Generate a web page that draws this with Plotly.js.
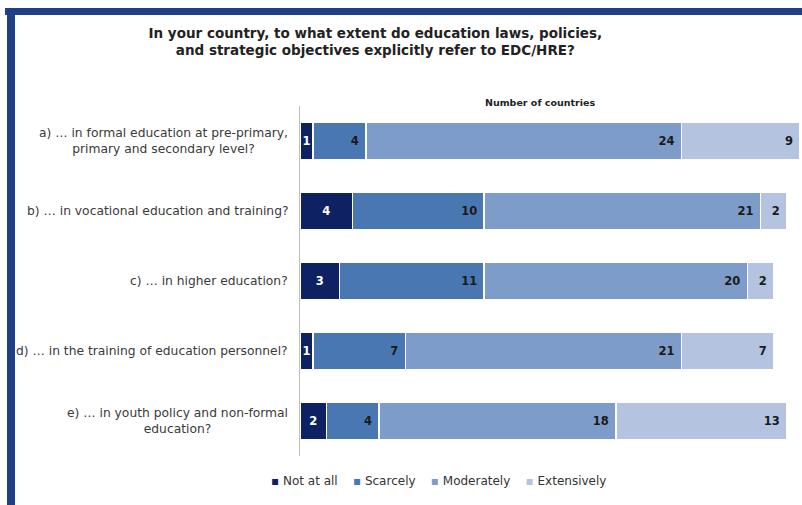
<!DOCTYPE html>
<html>
<head>
<meta charset="utf-8">
<script src="https://cdn.plot.ly/plotly-3.0.1.min.js"></script>
<style>
html,body{margin:0;padding:0;background:#fff;}
#wrap{position:relative;width:802px;height:505px;overflow:hidden;}
#chart{width:802px;height:505px;}
.bt{position:absolute;left:5px;top:8px;width:797px;height:7px;background:#1f3f86;z-index:10;}
.bl{position:absolute;left:7px;top:8px;width:8px;height:497px;background:#1f3f86;z-index:10;}
</style>
</head>
<body>
<div id="wrap"><div id="chart"></div><div class="bt"></div><div class="bl"></div></div>
<script>
const categories = [
  "a) … in formal education at pre-primary,<br>primary and secondary level?",
  "b) … in vocational education and training?",
  "c) … in higher education?",
  "d) … in the training of education personnel?",
  "e) … in youth policy and non-formal<br>education?"
];
const seriesNames = ["Not at all", "Scarcely", "Moderately", "Extensively"];
const notAtAll   = [1, 4, 3, 1, 2];
const scarcely   = [4, 10, 11, 7, 4];
const moderately = [24, 21, 20, 21, 18];
const extensively= [9, 2, 2, 7, 13];
const colors = ["#0e2263", "#4977b1", "#7e9cc9", "#b4c4e0"];
const textColors = ["#ffffff", "#1a1a1a", "#1a1a1a", "#1a1a1a"];

const FONT = "DejaVu Sans, Liberation Sans, Arial, sans-serif";
const values = [notAtAll, scarcely, moderately, extensively];
const ids = categories.map((c, i) => "cat" + i);

const traces = values.map((v, k) => ({
  type: "bar",
  orientation: "h",
  name: seriesNames[k],
  y: ids,
  x: v,
  text: v.map(n => (k === 0 ? String(n) : n + "\u00a0")),
  textposition: "inside",
  insidetextanchor: k === 0 ? "middle" : "end",
  constraintext: "none",
  textfont: {family: FONT, size: 11.5, color: textColors[k], weight: "bold"},
  marker: {color: colors[k], line: {color: "#ffffff", width: 1.5}},
  hoverinfo: "x+name",
  showlegend: false
}));

const annotations = categories.map((c, i) => ({
  xref: "paper", yref: "y", x: 0, y: ids[i],
  xanchor: "right", yanchor: "middle", xshift: -10,
  text: c, align: "center", showarrow: false,
  font: {family: FONT, size: 12.3, color: "#3a3a3a"}
}));
annotations.push({
  xref: "paper", yref: "paper", x: 0.48, y: 1.011, xanchor: "center", yanchor: "middle",
  text: "<b>Number of countries</b>", showarrow: false,
  font: {family: FONT, size: 9.5, color: "#222222"}
});
// legend built from series names and colours
const legendText = seriesNames.map((n, k) =>
  "<span style='color:" + colors[k] + "'>\u25AA</span> " + n).join("\u00a0\u00a0\u00a0\u00a0");
annotations.push({
  xref: "paper", yref: "paper", x: 0.277, y: -0.072, xanchor: "center", yanchor: "middle",
  text: legendText, showarrow: false,
  font: {family: FONT, size: 12, color: "#333333"}
});

const layout = {
  width: 802, height: 505,
  margin: {l: 300, r: 2, t: 106, b: 49},
  paper_bgcolor: "#ffffff", plot_bgcolor: "#ffffff",
  barmode: "stack",
  bargap: 0.46,
  title: {
    text: "<b>In your country, to what extent do education laws, policies,<br>and strategic objectives explicitly refer to EDC/HRE?</b>",
    x: 0.468, xanchor: "center", y: 0.925, yanchor: "middle",
    font: {family: FONT, size: 13.5, color: "#222222"}
  },
  xaxis: {range: [0, 38], visible: false, fixedrange: true},
  yaxis: {
    autorange: "reversed", showticklabels: false, ticks: "",
    showline: true, linecolor: "#bfbfbf", linewidth: 1, showgrid: false, zeroline: false
  },
  showlegend: false,
  annotations: annotations
};

Plotly.newPlot("chart", traces, layout, {displayModeBar: false, staticPlot: true});
</script>
</body>
</html>
